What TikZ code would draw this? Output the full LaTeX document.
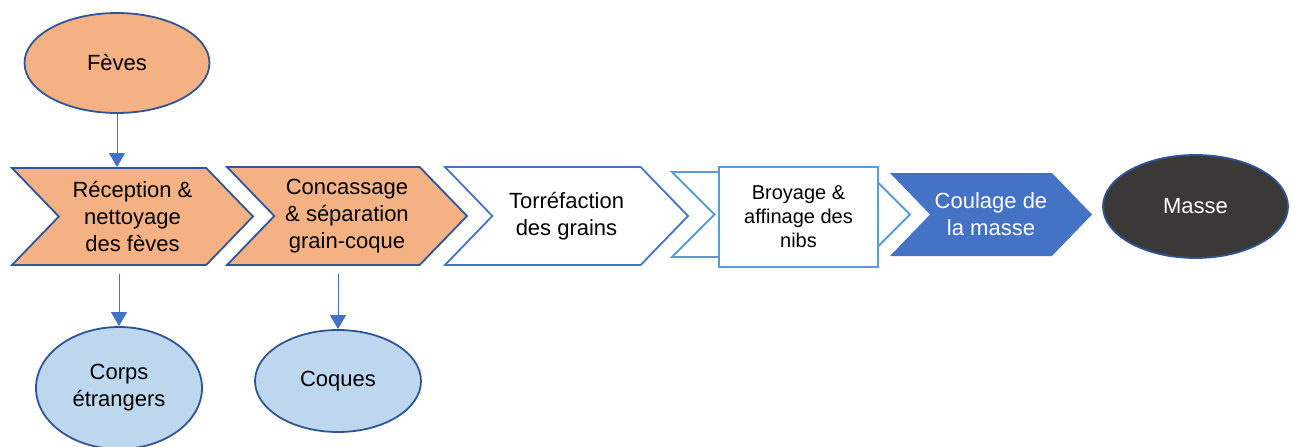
\documentclass[tikz,border=0pt]{standalone}
\usepackage{fontspec}
\setmainfont{Liberation Sans}
\usepackage{xcolor}
\usetikzlibrary{shapes.geometric, shapes.symbols, arrows.meta, positioning}
\definecolor{orangeF}{HTML}{F4B183}
\definecolor{bleuB}{HTML}{2F5597}
\definecolor{bleuM}{HTML}{4472C4}
\definecolor{bleuC}{HTML}{5B9BD5}
\definecolor{bleuP}{HTML}{BDD7EE}
\definecolor{grisF}{HTML}{3B3838}

\begin{document}
\begin{tikzpicture}[x=1pt, y=-1pt, font=\fontsize{22}{27}\selectfont]
        % Styles
        \tikzstyle{etape} = [signal, signal from=west, signal to=east, signal pointer angle=92, draw=bleuB, line width=1.8pt, fill=orangeF, align=center, inner sep=0pt]
        \tikzstyle{rond} = [ellipse, draw=bleuB, line width=1.8pt, inner sep=0pt, align=center]
        \tikzstyle{fleche} = [draw=bleuM, line width=1pt, -{Triangle[width=16pt,length=14pt]}]
        \useasboundingbox (0,0) rectangle (1291,447);

        % Nodes
        \node [rond, fill=orangeF, minimum width=185pt, minimum height=100pt] (feves) at (117,63) {Fèves};
        \node [etape, minimum width=241pt, minimum height=97pt] (reception) at (132.5,216.5) {Réception \&\\nettoyage\\des fèves};
        \node [etape, minimum width=240pt, minimum height=98pt] (concassage) at (347,216) {Concassage\\\& séparation\\grain-coque};
        \node [etape, draw=bleuM, fill=white, minimum width=243pt, minimum height=98pt] (torref) at (566.5,216) {Torréfaction\\des grains};
        \node [etape, draw=bleuC, fill=white, signal pointer angle=90, minimum width=238pt, minimum height=85pt] (broyfond) at (791,214.5) {};
        \node [rectangle, draw=bleuC, line width=1.8pt, fill=white, minimum width=159pt, minimum height=100pt, align=center, font=\fontsize{20}{24}\selectfont] (broyage) at (798.5,217) {Broyage \&\\affinage des\\nibs};
        \node [etape, draw=none, fill=bleuM, text=white, signal pointer angle=92, minimum width=202pt, minimum height=83pt] (coulage) at (991,214.5) {Coulage de\\la masse};
        \node [rond, fill=grisF, text=white, minimum width=185pt, minimum height=103pt] (masse) at (1195.5,206.5) {Masse};
        \node [rond, fill=bleuP, minimum width=166pt, minimum height=122pt] (corps) at (119,388) {Corps\\étrangers};
        \node [rond, fill=bleuP, minimum width=166pt, minimum height=102pt] (coques) at (338,381) {Coques};

        % Paths
        \path [fleche] (feves.south) -- (feves.south |- reception.north);
        \path [fleche, shorten <=8pt] (corps.north |- reception.south) -- (corps.north);
        \path [fleche, shorten <=8pt] (coques.north |- concassage.south) -- (coques.north);
    \end{tikzpicture}
\end{document}
